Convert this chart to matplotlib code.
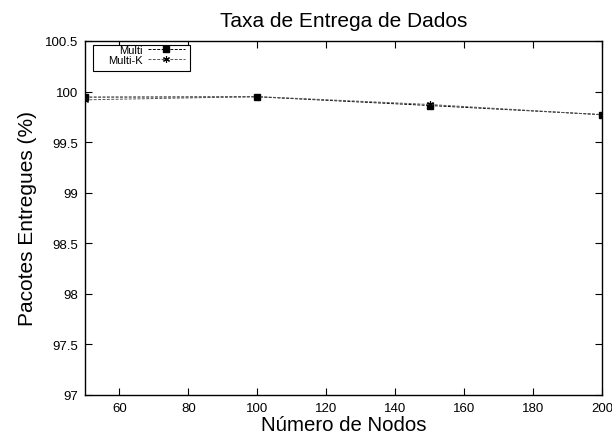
import matplotlib
matplotlib.use("Agg")
import matplotlib.pyplot as plt
from matplotlib.patches import Rectangle

plt.rcParams['font.family'] = ['Liberation Sans', 'DejaVu Sans']

nodes = [50, 100, 150, 200]
multi = [99.945, 99.948, 99.862, 99.772]
multi_k = [99.918, 99.950, 99.872, 99.770]
xticks = [60, 80, 100, 120, 140, 160, 180, 200]
yticks = [97, 97.5, 98, 98.5, 99, 99.5, 100, 100.5]
ytick_labels = ['97', '97.5', '98', '98.5', '99', '99.5', '100', '100.5']

fig = plt.figure(figsize=(6.12, 4.35), dpi=100)
ax = fig.add_axes([0.1389, 0.0897, 0.8448, 0.8138])

ax.plot(nodes, multi, linestyle=(0, (3, 1.5)), color='black', linewidth=0.7,
        marker='s', markersize=5, label='Multi')
ax.plot(nodes, multi_k, linestyle=(0, (3, 1.5)), color='#555555', linewidth=0.7,
        marker=(6, 2, 0), markersize=5, markeredgewidth=0.8, markeredgecolor='black',
        label='Multi-K')

ax.set_xlim(50, 200)
ax.set_ylim(97, 100.5)
ax.set_xticks(xticks)
ax.set_yticks(yticks)
ax.set_yticklabels(ytick_labels)
ax.tick_params(direction='in', top=True, right=True, length=5, width=0.8,
               labelsize=9.5)
ax.tick_params(axis='x', pad=5)
ax.tick_params(axis='y', pad=5)
for s in ax.spines.values():
    s.set_linewidth(1.0)

ax.set_title('Taxa de Entrega de Dados', fontsize=15, pad=11)
ax.set_xlabel('Número de Nodos', fontsize=14.7)
ax.xaxis.set_label_coords(0.5, -0.056)
ax.set_ylabel('Pacotes Entregues (%)', fontsize=15)
ax.yaxis.set_label_coords(-0.092, 0.5)

# legend frame (gnuplot-style key box)
ax.add_patch(Rectangle((0.0155, 0.9152), 0.1875, 0.0743, transform=ax.transAxes,
                       facecolor='white', edgecolor='black', linewidth=0.8,
                       zorder=4))
leg = ax.legend(loc='upper right', bbox_to_anchor=(0.193, 0.988),
                markerfirst=False, fontsize=8, frameon=False,
                borderpad=0.0, labelspacing=0.0, handlelength=3.3,
                handletextpad=0.5, borderaxespad=0.0)
leg.set_zorder(5)

fig.savefig('out.png', dpi=100)
